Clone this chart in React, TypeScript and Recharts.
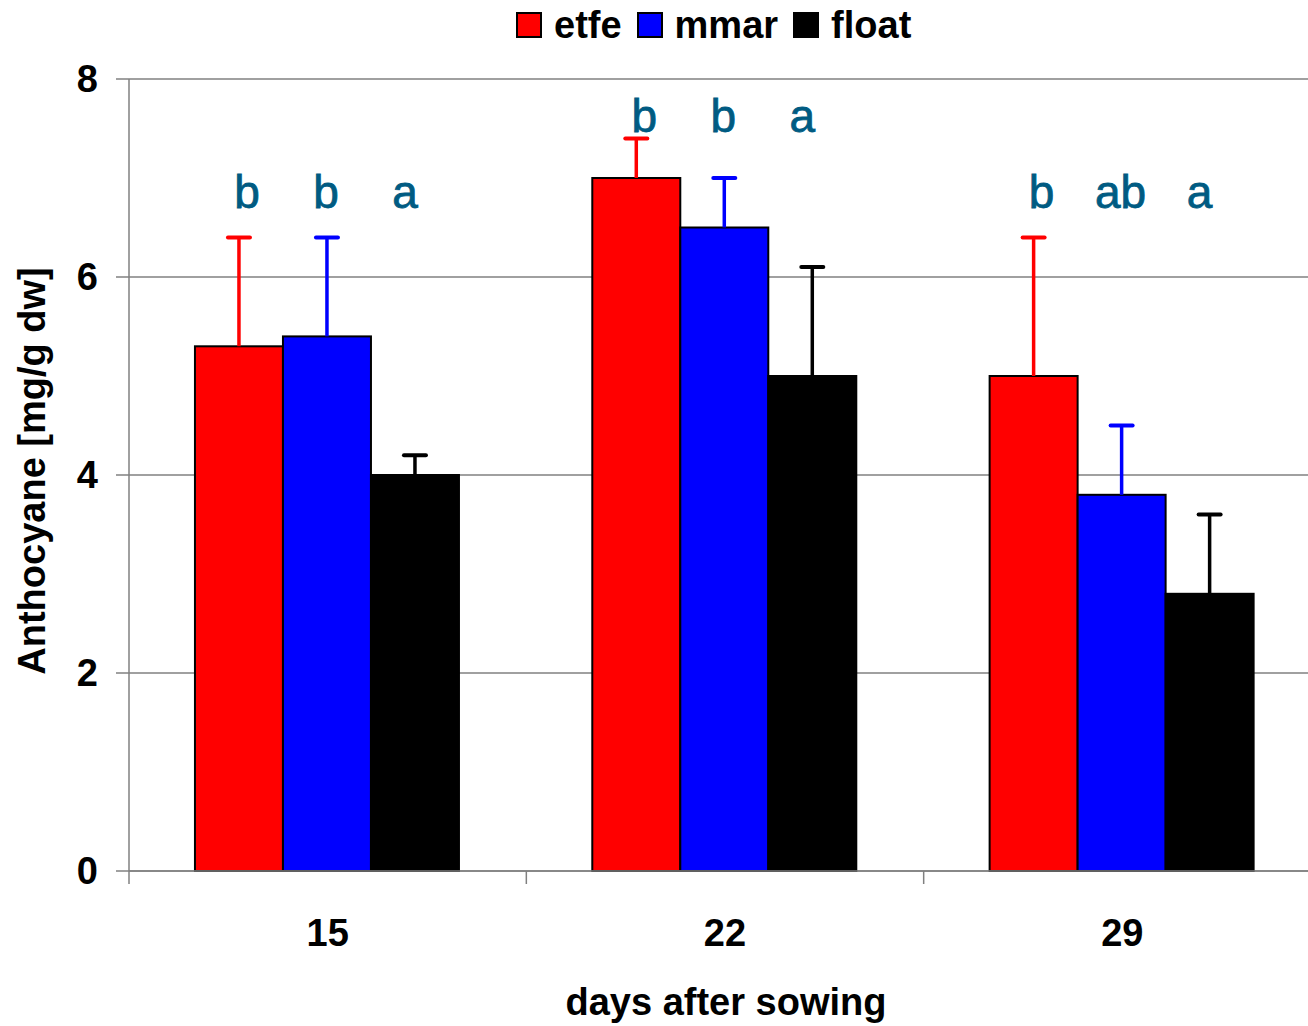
import { BarChart, Bar, XAxis, YAxis, CartesianGrid, LabelList, Label } from "recharts";

// values
const days = ["15", "22", "29"];
const etfe = [5.3, 7.0, 5.0];
const mmar = [5.4, 6.5, 3.8];
const float = [4.0, 5.0, 2.8];
const etfeErr = [1.1, 0.4, 1.4];
const mmarErr = [1.0, 0.5, 0.7];
const floatErr = [0.2, 1.1, 0.8];
const etfeLetters = ["b", "b", "b"];
const mmarLetters = ["b", "b", "ab"];
const floatLetters = ["a", "a", "a"];
const letterLevel = [6.7, 7.46, 6.7];
const yTicks = [0, 2, 4, 6, 8];

const data = days.map((d, i) => ({
  day: d,
  etfe: etfe[i],
  mmar: mmar[i],
  float: float[i],
  etfeErr: etfeErr[i],
  mmarErr: mmarErr[i],
  floatErr: floatErr[i],
}));

const series = [
  { key: "etfe", color: "#ff0000", err: "etfeErr", letters: etfeLetters, shift: 8 },
  { key: "mmar", color: "#0000ff", err: "mmarErr", letters: mmarLetters, shift: -1 },
  { key: "float", color: "#000000", err: "floatErr", letters: floatLetters, shift: -10 },
];

const CHART_W = 1321;
const CHART_H = 1026;
const Y_W = 129;
const BAND = (CHART_W - Y_W) / days.length;
const FONT = "Arial, 'Liberation Sans', sans-serif";
const LETTER_COLOR = "#005b82";

function makeShape(valueKey: string, errKey: string, color: string) {
  return (props: any) => {
    const { x, y, width, height, payload } = props;
    const v = payload[valueKey];
    const pxPerUnit = v ? height / v : 0;
    const top = y - payload[errKey] * pxPerUnit;
    const cx = x + width / 2;
    return (
      <g>
        <rect x={x} y={y} width={width} height={height} fill={color} stroke="#000" strokeWidth={2} />
        <line x1={cx} y1={y} x2={cx} y2={top} stroke={color} strokeWidth={3.5} />
        <line x1={cx - 11} y1={top} x2={cx + 11} y2={top} stroke={color} strokeWidth={4} strokeLinecap="round" />
      </g>
    );
  };
}

function makeLetter(valueKey: string, letters: string[], shift: number) {
  return (props: any) => {
    const { x, y, width, height, index } = props;
    const v = data[index][valueKey as "etfe"];
    const pxPerUnit = v ? height / v : 0;
    const ly = y + height - letterLevel[index] * pxPerUnit;
    return (
      <text
        x={x + width / 2 + shift}
        y={ly}
        textAnchor="middle"
        fill={LETTER_COLOR}
        stroke={LETTER_COLOR}
        strokeWidth={0.8}
        fontSize={46}
        fontFamily={FONT}
      >
        {letters[index]}
      </text>
    );
  };
}

function XTick(props: any) {
  const { x, y, payload } = props;
  return (
    <g>
      <line x1={x - BAND / 2} y1={y} x2={x - BAND / 2} y2={y + 13} stroke="#808080" strokeWidth={1.5} />
      <text x={x} y={y + 75} textAnchor="middle" fontSize={38} fontWeight="bold" fontFamily={FONT} fill="#000">
        {payload.value}
      </text>
    </g>
  );
}

function Legend() {
  return (
    <div
      style={{
        position: "absolute",
        left: 516,
        top: 6,
        display: "flex",
        alignItems: "center",
        fontFamily: FONT,
        fontWeight: "bold",
        fontSize: 38,
        lineHeight: "38px",
      }}
    >
      {series.map((s) => (
        <div key={s.key} style={{ display: "flex", alignItems: "center", marginRight: 15 }}>
          <div
            style={{
              width: 22,
              height: 22,
              background: s.color,
              border: "2px solid #000",
              marginRight: 12,
            }}
          />
          <span>{s.key}</span>
        </div>
      ))}
    </div>
  );
}

export default function App() {
  return (
    <div
      style={{
        position: "absolute",
        left: 0,
        top: 0,
        width: 1308,
        height: CHART_H,
        overflow: "hidden",
        background: "#fff",
      }}
    >
      <Legend />
      <BarChart
        width={CHART_W}
        height={CHART_H}
        data={data}
        margin={{ top: 79, right: 0, bottom: 0, left: 0 }}
        barCategoryGap="16.6%"
        barGap={0}
      >
        <CartesianGrid vertical={false} stroke="#808080" strokeWidth={1.5} />
        <XAxis
          dataKey="day"
          height={155}
          stroke="#808080"
          strokeWidth={1.5}
          tickLine={false}
          tickSize={0}
          tickMargin={0}
          tick={<XTick />}
        >
          <Label
            content={(p: any) => (
              <text
                x={726}
                y={p.viewBox.y + 144}
                textAnchor="middle"
                fontSize={38}
                fontWeight="bold"
                fontFamily={FONT}
              >
                days after sowing
              </text>
            )}
          />
        </XAxis>
        <YAxis
          width={Y_W}
          domain={[0, 8]}
          ticks={yTicks}
          stroke="#808080"
          strokeWidth={1.5}
          tickSize={13}
          tickMargin={18}
          tick={{ fill: "#000", fontSize: 38, fontWeight: "bold", fontFamily: FONT }}
        >
          <Label
            content={(p: any) => {
              const cx = 32;
              const cy = p.viewBox.y + p.viewBox.height / 2 - 4;
              return (
                <text
                  x={cx}
                  y={cy}
                  transform={`rotate(-90 ${cx} ${cy})`}
                  textAnchor="middle"
                  dominantBaseline="central"
                  fontSize={38}
                  fontWeight="bold"
                  fontFamily={FONT}
                >
                  Anthocyane [mg/g dw]
                </text>
              );
            }}
          />
        </YAxis>
        {series.map((s) => (
          <Bar
            key={s.key}
            dataKey={s.key}
            fill={s.color}
            isAnimationActive={false}
            shape={makeShape(s.key, s.err, s.color)}
          >
            <LabelList dataKey={s.key} content={makeLetter(s.key, s.letters, s.shift)} />
          </Bar>
        ))}
      </BarChart>
    </div>
  );
}
